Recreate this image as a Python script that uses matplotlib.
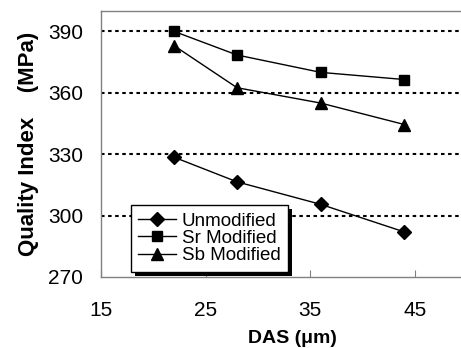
import matplotlib.pyplot as plt
from matplotlib.patches import Rectangle

das = [22, 28, 36, 44]
unmodified = [328.5, 316.5, 305.5, 292]
sr_modified = [390, 378.5, 370, 366.5]
sb_modified = [383, 362.5, 355, 344.5]

x_ticks = [15, 25, 35, 45]
y_ticks = [270, 300, 330, 360, 390]

plt.rcParams['font.family'] = ['Liberation Sans', 'DejaVu Sans']

fig = plt.figure(figsize=(4.61, 3.48), dpi=100)
ax = fig.add_axes([101 / 461, 71 / 348, 360 / 461, 266 / 348])

# dotted horizontal grid
for y in y_ticks[1:]:
    ax.axhline(y, color='black', lw=1.5, ls=(0, (1.7, 1.7)), zorder=1)

ax.plot(das, unmodified, color='black', lw=1, marker='D', ms=7, label='Unmodified', zorder=3)
ax.plot(das, sr_modified, color='black', lw=1, marker='s', ms=7.5, label='Sr Modified', zorder=3)
ax.plot(das, sb_modified, color='black', lw=1, marker='^', ms=8.5, label='Sb Modified', zorder=3)

ax.set_xlim(15, 49.4)
ax.set_ylim(270, 400)
ax.set_xticks(x_ticks)
ax.set_yticks(y_ticks)
ax.tick_params(axis='x', direction='in', length=5, color='#808080', pad=17, labelsize=15)
ax.tick_params(axis='y', length=0, pad=13, labelsize=15)

ax.spines['right'].set_visible(False)
for side in ['left', 'top', 'bottom']:
    ax.spines[side].set_color('#808080')
    ax.spines[side].set_linewidth(1)

ax.set_xlabel('DAS (\u03bcm)', fontsize=14, fontweight='bold')
ax.xaxis.set_label_coords(0.533, -0.2)
ax.set_ylabel('Quality Index    (MPa)', fontsize=16, fontweight='bold', labelpad=6)

leg = ax.legend(loc='lower left', bbox_to_anchor=(0.083, 0.02), fontsize=13.5,
                frameon=True, fancybox=False, framealpha=1,
                edgecolor='black', handlelength=2.0, borderpad=0.4,
                labelspacing=0.0, handletextpad=0.3, borderaxespad=0)
leg.get_frame().set_linewidth(1)
leg.set_zorder(5)

# solid black drop shadow behind the legend
fig.canvas.draw()
bb = leg.get_frame().get_window_extent()
ax.add_patch(Rectangle((bb.x0 + 4, bb.y0 - 4), bb.width, bb.height,
                       transform=None, facecolor='black', edgecolor='none', zorder=4.9))

fig.savefig('out.png', dpi=100)
